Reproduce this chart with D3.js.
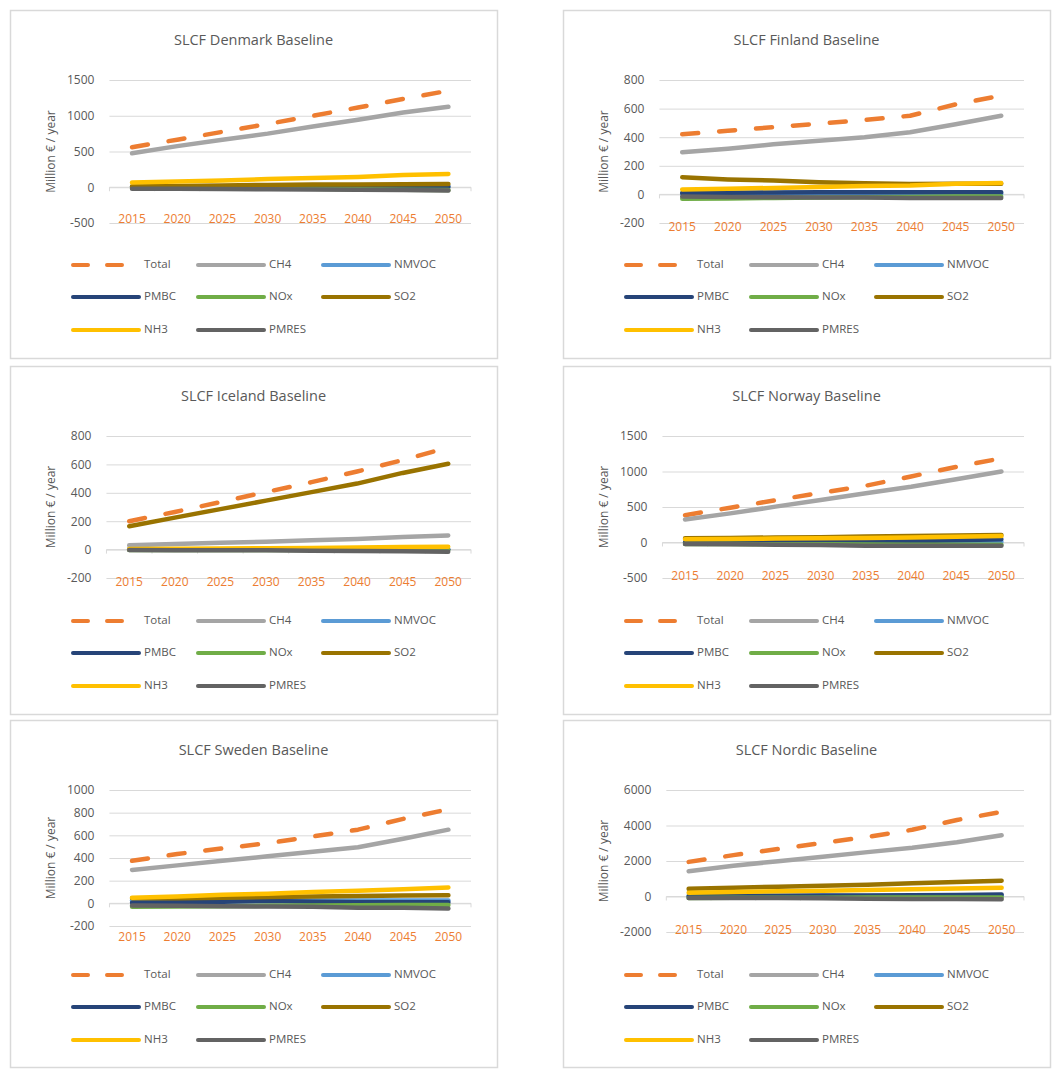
<!DOCTYPE html>
<html>
<head>
<meta charset="utf-8">
<script src="https://cdn.jsdelivr.net/npm/d3@7"></script>
<style>
  body { margin: 0; background: #fff; }
  svg { font-family: "Open Sans", "Noto Sans", sans-serif; }
</style>
</head>
<body>
<svg id="chart" width="1064" height="1080"></svg>
<script>
// categories and series
const years = [2015, 2020, 2025, 2030, 2035, 2040, 2045, 2050];
const seriesNames = ["Total", "CH4", "NMVOC", "PMBC", "NOx", "SO2", "NH3", "PMRES"];
const legendLabels = ["Total", "CH4", "NMVOC", "PMBC", "NOx", "SO2", "NH3", "PMRES"];

// values (million € / year)
const denmark = {
    Total: [560, 665, 775, 885, 1000, 1115, 1235, 1350],
    CH4:   [475, 575, 665, 750, 850, 945, 1045, 1125],
    NMVOC: [10, 10, 12, 12, 12, 14, 15, 15],
    PMBC:  [5, 5, 5, 5, 5, 5, 5, 5],
    NOx:   [-10, -12, -15, -18, -22, -28, -35, -40],
    SO2:   [10, 18, 25, 32, 38, 40, 42, 45],
    NH3:   [65, 80, 95, 115, 130, 145, 170, 185],
    PMRES: [-20, -22, -25, -28, -30, -35, -40, -45]
};
const finland = {
    Total: [420, 445, 470, 495, 520, 550, 630, 690],
    CH4:   [295, 320, 350, 375, 400, 435, 490, 550],
    NMVOC: [5, 5, 5, 5, 5, 5, 5, 5],
    PMBC:  [10, 12, 14, 15, 15, 15, 15, 15],
    NOx:   [-30, -28, -25, -22, -20, -18, -15, -15],
    SO2:   [120, 105, 97, 85, 78, 73, 75, 75],
    NH3:   [35, 40, 45, 52, 58, 62, 75, 80],
    PMRES: [-15, -18, -20, -22, -22, -25, -25, -25]
};
const iceland = {
    Total: [200, 265, 335, 405, 475, 550, 630, 720],
    CH4:   [30, 40, 48, 55, 65, 75, 88, 100],
    NMVOC: [2, 2, 2, 2, 2, 2, 2, 2],
    PMBC:  [0, 0, 0, 0, 0, 0, 0, 0],
    NOx:   [-3, -3, -3, -3, -3, -3, -3, -3],
    SO2:   [165, 225, 285, 345, 405, 465, 540, 605],
    NH3:   [5, 6, 8, 10, 12, 15, 18, 20],
    PMRES: [-3, -4, -5, -5, -8, -10, -12, -15]
};
const norway = {
    Total: [385, 490, 595, 700, 800, 930, 1065, 1185],
    CH4:   [325, 410, 505, 600, 695, 785, 890, 1000],
    NMVOC: [0, 0, 0, 2, 3, 5, 8, 10],
    PMBC:  [0, 2, 5, 8, 12, 18, 30, 45],
    NOx:   [-20, -22, -25, -25, -28, -30, -30, -30],
    SO2:   [60, 65, 70, 75, 85, 90, 100, 105],
    NH3:   [45, 50, 55, 60, 65, 70, 80, 90],
    PMRES: [-20, -25, -30, -35, -45, -45, -45, -45]
};
const sweden = {
    Total: [375, 435, 485, 530, 590, 650, 745, 830],
    CH4:   [295, 335, 375, 415, 455, 495, 570, 650],
    NMVOC: [25, 25, 25, 25, 25, 25, 25, 25],
    PMBC:  [5, 10, 15, 20, 15, 10, 10, 10],
    NOx:   [-30, -28, -25, -22, -20, -18, -15, -15],
    SO2:   [45, 45, 50, 55, 60, 65, 70, 72],
    NH3:   [50, 60, 75, 85, 100, 110, 125, 140],
    PMRES: [-20, -22, -25, -28, -30, -38, -40, -45]
};
const nordic = {
    Total: [1950, 2330, 2680, 3020, 3360, 3760, 4310, 4770],
    CH4:   [1420, 1730, 1990, 2240, 2500, 2750, 3060, 3450],
    NMVOC: [30, 30, 30, 30, 35, 35, 40, 40],
    PMBC:  [20, 30, 40, 50, 60, 70, 90, 110],
    NOx:   [-80, -75, -70, -65, -60, -55, -50, -50],
    SO2:   [430, 490, 550, 610, 660, 740, 810, 890],
    NH3:   [210, 250, 290, 330, 370, 410, 450, 490],
    PMRES: [-80, -85, -90, -100, -130, -140, -145, -150]
};

// y tick labels per chart
const denmarkTicks = [-500, 0, 500, 1000, 1500];
const finlandTicks = [-200, 0, 200, 400, 600, 800];
const icelandTicks = [-200, 0, 200, 400, 600, 800];
const norwayTicks = [-500, 0, 500, 1000, 1500];
const swedenTicks = [-200, 0, 200, 400, 600, 800, 1000];
const nordicTicks = [-2000, 0, 2000, 4000, 6000];

const titles = ["SLCF Denmark Baseline", "SLCF Finland Baseline", "SLCF Iceland Baseline",
    "SLCF Norway Baseline", "SLCF Sweden Baseline", "SLCF Nordic Baseline"];

// styles
const colors = {
    Total: "#ED7D31", CH4: "#A5A5A5", NMVOC: "#5B9BD5", PMBC: "#264478",
    NOx: "#70AD47", SO2: "#997300", NH3: "#FFC000", PMRES: "#636363"
};
const textColor = "#595959";
const gridColor = "#d9d9d9";

// panel layout
const panels = [
    {data: denmark, ticks: denmarkTicks, x: 10, y: 10, h: 348, bottom: 213, labelY: 210},
    {data: finland, ticks: finlandTicks, x: 563, y: 10, h: 348, bottom: 213, labelY: 218},
    {data: iceland, ticks: icelandTicks, x: 10, y: 366, h: 348, bottom: 212, labelY: 217},
    {data: norway, ticks: norwayTicks, x: 563, y: 366, h: 348, bottom: 212, labelY: 211},
    {data: sweden, ticks: swedenTicks, x: 10, y: 720, h: 347, bottom: 206, labelY: 218},
    {data: nordic, ticks: nordicTicks, x: 563, y: 720, h: 347, bottom: 212, labelY: 211}
];
panels.forEach((p, i) => p.title = titles[i]);

const panelWidth = 487,
    plotTop = 70,
    plotRight = 461,
    tickLabelLeft = 57;

let svg = d3.select("#chart");

let drawPanel = (p) => {
    let g = svg.append("g").attr("transform", `translate(${p.x},${p.y})`);

    g.append("rect")
        .attr("x", 0.5).attr("y", 0.5)
        .attr("width", panelWidth).attr("height", p.h)
        .style("fill", "#fff")
        .style("stroke", gridColor)
        .style("stroke-width", 1.5);

    g.append("text")
        .attr("x", panelWidth / 2).attr("y", 31)
        .attr("text-anchor", "middle")
        .attr("dominant-baseline", "middle")
        .style("font-size", "14.5px")
        .style("fill", textColor)
        .text(p.title);

    // measure tick labels to place the plot area
    let fmt = d => String(d);
    let probe = g.append("g").style("font-size", "12px");
    let maxW = 0;
    p.ticks.forEach(t => {
        let tt = probe.append("text").text(fmt(t));
        maxW = Math.max(maxW, tt.node().getComputedTextLength());
    });
    probe.remove();
    let plotLeft = tickLabelLeft + maxW + 15;

    let x = d3.scaleBand().domain(years).range([plotLeft, plotRight]);
    let y = d3.scaleLinear()
        .domain([p.ticks[0], p.ticks[p.ticks.length - 1]])
        .range([p.bottom, plotTop]);

    // gridlines + y labels
    let yAxis = d3.axisLeft(y).tickValues(p.ticks).tickSize(-(plotRight - plotLeft)).tickFormat(fmt).tickPadding(15);
    let ya = g.append("g").attr("transform", `translate(${plotLeft},0)`).call(yAxis);
    ya.select(".domain").remove();
    ya.selectAll(".tick line").style("stroke", gridColor).style("stroke-width", 1);
    ya.selectAll(".tick text")
        .style("font-size", "12px")
        .style("font-family", "'Open Sans', 'Noto Sans', sans-serif")
        .style("fill", textColor);

    // category axis at zero with outside ticks at boundaries
    let bounds = years.map(d => x(d)).concat([plotRight]);
    g.append("line")
        .attr("x1", plotLeft).attr("x2", plotRight)
        .attr("y1", y(0)).attr("y2", y(0))
        .style("stroke", gridColor).style("stroke-width", 1);
    g.selectAll(".cat-tick").data(bounds).enter().append("line")
        .attr("class", "cat-tick")
        .attr("x1", d => d).attr("x2", d => d)
        .attr("y1", y(0)).attr("y2", y(0) + 4)
        .style("stroke", gridColor).style("stroke-width", 1);

    // x labels (low position)
    g.selectAll(".xlab").data(years).enter().append("text")
        .attr("class", "xlab")
        .attr("x", d => x(d) + x.bandwidth() / 2)
        .attr("y", p.labelY)
        .attr("text-anchor", "middle")
        .attr("dominant-baseline", "middle")
        .style("font-size", "12px")
        .style("fill", "#ED7D31")
        .text(d => d);

    // y axis title
    g.append("text")
        .attr("transform", `translate(42,${(plotTop + p.bottom) / 2}) rotate(-90)`)
        .attr("text-anchor", "middle")
        .attr("dominant-baseline", "middle")
        .style("font-size", "12px")
        .style("fill", textColor)
        .text("Million € / year");

    // series lines
    let line = d3.line()
        .x((d, i) => x(years[i]) + x.bandwidth() / 2)
        .y(d => y(d));
    seriesNames.forEach(name => {
        g.append("path")
            .datum(p.data[name])
            .attr("d", line)
            .style("fill", "none")
            .style("stroke", colors[name])
            .style("stroke-width", 4.5)
            .style("stroke-linecap", "round")
            .style("stroke-linejoin", "round")
            .style("stroke-dasharray", name === "Total" ? "16,21" : null);
    });

    // legend
    let legendRows = [255, 287, 320];
    let legendCols = [63, 188, 313];
    seriesNames.forEach((name, i) => {
        let lx = legendCols[i % 3], ly = legendRows[Math.floor(i / 3)];
        g.append("line")
            .attr("x1", lx).attr("x2", lx + 66)
            .attr("y1", ly).attr("y2", ly)
            .style("stroke", colors[name])
            .style("stroke-width", 4)
            .style("stroke-linecap", "round")
            .style("stroke-dasharray", name === "Total" ? "15,19" : null);
        g.append("text")
            .attr("x", lx + 71).attr("y", ly)
            .attr("dominant-baseline", "middle")
            .style("font-size", "11.5px")
            .style("fill", textColor)
            .text(legendLabels[i]);
    });
};

panels.forEach(drawPanel);
</script>
</body>
</html>
